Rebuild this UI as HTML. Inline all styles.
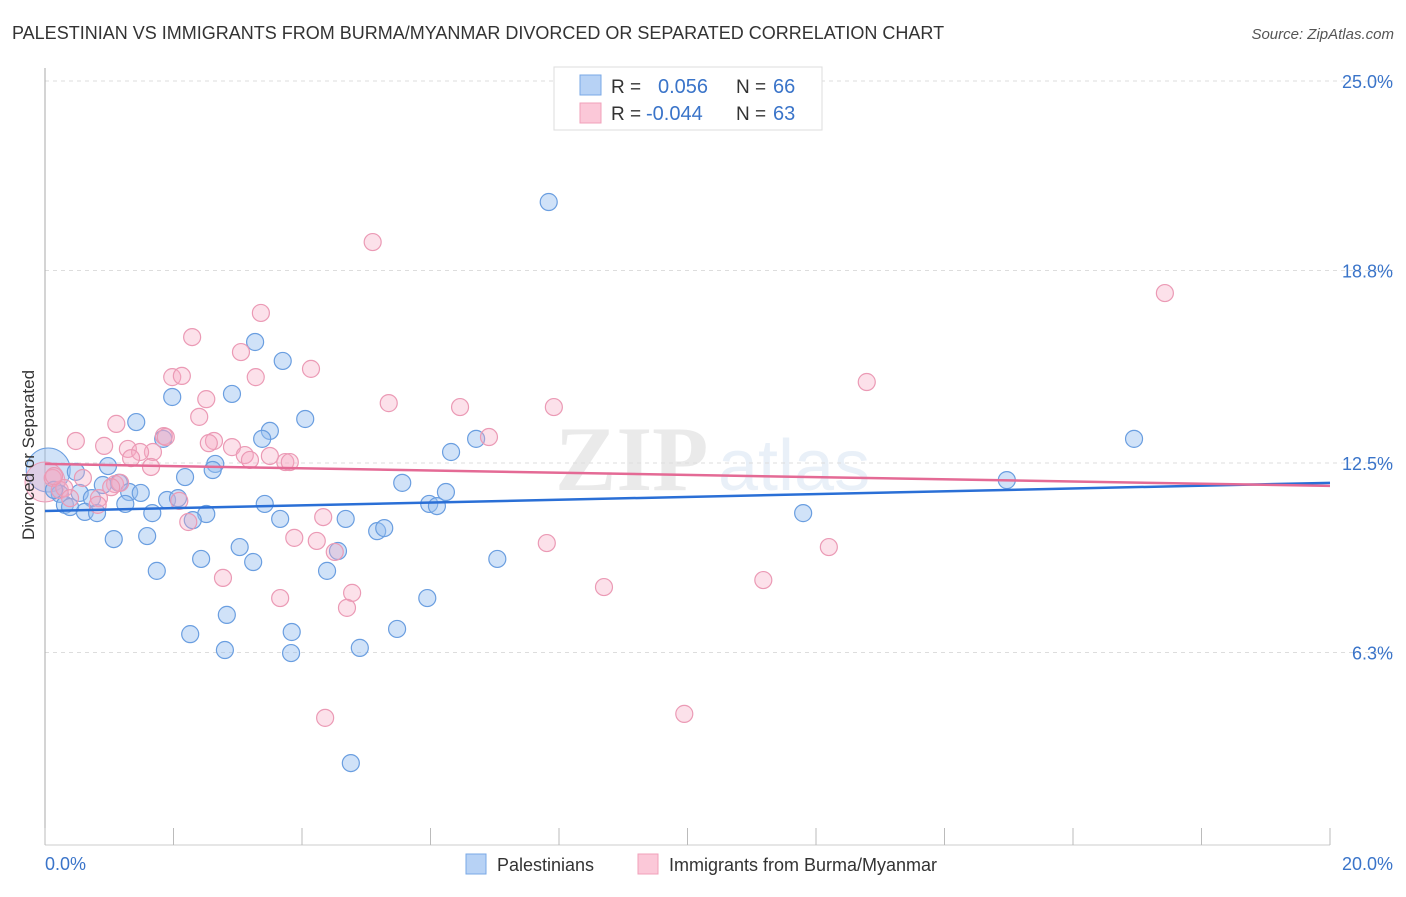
<!DOCTYPE html>
<html><head><meta charset="utf-8"><style>
body{margin:0;background:#fff;font-family:"Liberation Sans",sans-serif;}
</style></head><body>
<svg width="1406" height="892" xmlns="http://www.w3.org/2000/svg" font-family="Liberation Sans, sans-serif">
<text x="12" y="39" font-size="18" fill="#333">PALESTINIAN VS IMMIGRANTS FROM BURMA/MYANMAR DIVORCED OR SEPARATED CORRELATION CHART</text>
<text x="1394" y="39" font-size="15" fill="#555" font-style="italic" text-anchor="end">Source: ZipAtlas.com</text>
<g opacity="0.13">
<text x="555" y="490" font-size="92" fill="#666" font-family="Liberation Serif, serif" font-weight="bold">ZIP</text>
<text x="718" y="490" font-size="72" fill="#5b8fd0">atlas</text>
</g>
<g id="grid"></g>
<g id="axes"></g>
<g id="marks"></g>
<text transform="translate(34,455) rotate(-90)" font-size="17" fill="#333" text-anchor="middle">Divorced or Separated</text>
<g>
<rect x="554" y="67" width="268" height="63" fill="#fff" stroke="#ddd"/>
<rect x="580" y="75" width="21" height="20" fill="#b7d2f5" stroke="#7aa8e6"/>
<rect x="580" y="103" width="21" height="20" fill="#fbc8d8" stroke="#f0a0ba"/>
<text x="611" y="93" font-size="19" fill="#333">R =</text>
<text x="658" y="93" font-size="20" fill="#3a74c9">0.056</text>
<text x="736" y="93" font-size="19" fill="#333">N =</text>
<text x="773" y="93" font-size="20" fill="#3a74c9">66</text>
<text x="611" y="120" font-size="19" fill="#333">R =</text>
<text x="646" y="120" font-size="20" fill="#3a74c9">-0.044</text>
<text x="736" y="120" font-size="19" fill="#333">N =</text>
<text x="773" y="120" font-size="20" fill="#3a74c9">63</text>
</g>
<g>
<rect x="466" y="854" width="20" height="20" fill="#b7d2f5" stroke="#7aa8e6"/>
<text x="497" y="871" font-size="18" fill="#333">Palestinians</text>
<rect x="638" y="854" width="20" height="20" fill="#fbc8d8" stroke="#f0a0ba"/>
<text x="669" y="871" font-size="18" fill="#333">Immigrants from Burma/Myanmar</text>
</g>
</svg>
<script>
const yTicks=[25,18.8,12.5,6.3];
const yTickLabels=["25.0%","18.8%","12.5%","6.3%"];
const xTicks=[0,2,4,6,8,10,12,14,16,18,20];
const xEndLabels=["0.0%","20.0%"];
const blueX=[7.84,3.27,3.70,1.98,2.91,1.42,4.05,3.50,3.38,1.84,6.71,6.32,0.98,2.65,2.61,0.48,2.18,1.15,0.90,5.56,1.31,1.49,0.54,6.24,0.23,0.14,0.73,1.90,2.07,0.31,1.25,3.42,5.98,6.10,0.39,0.62,0.81,1.67,2.51,2.30,3.66,4.68,5.17,5.28,11.80,14.97,16.95,1.07,1.59,3.03,4.56,3.24,2.43,7.04,1.74,4.39,5.95,2.83,5.48,2.26,3.84,4.90,2.80,3.83,4.76];
const blueY=[21.04,16.46,15.84,14.66,14.76,13.84,13.94,13.55,13.29,13.29,13.29,12.86,12.40,12.47,12.27,12.21,12.04,11.85,11.78,11.85,11.55,11.52,11.52,11.55,11.49,11.62,11.35,11.29,11.35,11.13,11.16,11.16,11.16,11.09,11.06,10.90,10.86,10.86,10.83,10.63,10.67,10.67,10.27,10.37,10.86,11.94,13.29,10.01,10.11,9.75,9.62,9.26,9.36,9.36,8.97,8.97,8.08,7.53,7.07,6.90,6.97,6.45,6.38,6.28,2.68];
const pinkX=[5.10,17.43,3.36,2.29,3.05,4.14,1.98,2.13,3.28,12.79,2.51,5.35,6.46,7.92,2.40,1.11,1.85,0.48,0.92,1.29,2.63,2.55,2.91,1.88,6.91,1.68,1.48,3.11,3.50,3.19,3.74,3.81,1.65,1.34,0.59,0.12,0.23,1.09,1.17,0.84,0.30,0.39,1.03,2.09,0.82,0.14,2.23,4.33,4.51,3.88,4.23,7.81,12.20,2.77,8.70,11.18,4.78,3.66,4.70,4.36,9.95];
const pinkY=[19.73,18.06,17.41,16.62,16.13,15.58,15.31,15.35,15.31,15.15,14.59,14.46,14.33,14.33,14.01,13.78,13.38,13.22,13.06,12.96,13.22,13.15,13.02,13.35,13.35,12.86,12.86,12.76,12.73,12.60,12.53,12.53,12.37,12.66,12.01,12.01,11.62,11.81,11.85,11.35,11.68,11.35,11.71,11.26,11.13,12.07,10.57,10.73,9.59,10.05,9.95,9.88,9.75,8.74,8.44,8.67,8.25,8.08,7.76,4.16,4.29];
const bigPoints=[{s:"blue",x:0.05,y:12.27},{s:"pink",x:0.0,y:11.88}];
const blueTrend=[10.93,11.85];
const pinkTrend=[12.47,11.75];
const NS="http://www.w3.org/2000/svg";
const X=v=>45+v*64.25, Y=v=>845-v*30.56;
function mk(p,tag,a){const e=document.createElementNS(NS,tag);for(const k in a)e.setAttribute(k,a[k]);p.appendChild(e);return e;}
const grid=document.getElementById('grid'),axes=document.getElementById('axes'),marks=document.getElementById('marks');
yTicks.forEach((t,i)=>{
 const l=mk(grid,'line',{x1:45,x2:1394,y1:Y(t),y2:Y(t),stroke:'#ddd','stroke-dasharray':'4,4'});
 
 
 const tx=mk(axes,'text',{x:1393,y:Y(t)+7,'font-size':18,fill:'#3a74c9','text-anchor':'end'});tx.textContent=yTickLabels[i];
 
 
});
const ax=mk(axes,'line',{x1:45,x2:45,y1:68,y2:845,stroke:'#aaa'});


const bx=mk(axes,'line',{x1:45,x2:1330,y1:845,y2:845,stroke:'#ccc'});


xTicks.forEach(t=>{const l=mk(axes,'line',{x1:X(t),x2:X(t),y1:828,y2:845,stroke:'#bbb'});
 
 });
const t0=mk(axes,'text',{x:45,y:870,'font-size':18,fill:'#3a74c9'});t0.textContent=xEndLabels[0];


const t1=mk(axes,'text',{x:1393,y:870,'font-size':18,fill:'#3a74c9','text-anchor':'end'});t1.textContent=xEndLabels[1];


const sty={blue:{fill:'rgba(150,190,240,0.45)',stroke:'#6a9ee0'},pink:{fill:'rgba(246,170,196,0.35)',stroke:'#eb9ab5'}};
bigPoints.forEach(p=>{const c=mk(marks,'circle',{cx:X(p.x),cy:Y(p.y),r:p.s=='blue'?22:20,fill:sty[p.s].fill,stroke:sty[p.s].stroke,'stroke-width':1});
 
 });
blueX.forEach((v,i)=>{const c=mk(marks,'circle',{cx:X(v),cy:Y(blueY[i]),r:8.5,fill:sty.blue.fill,stroke:sty.blue.stroke,'stroke-width':1.2});
 
 });
pinkX.forEach((v,i)=>{const c=mk(marks,'circle',{cx:X(v),cy:Y(pinkY[i]),r:8.5,fill:sty.pink.fill,stroke:sty.pink.stroke,'stroke-width':1.2});
 
 });
const bl=mk(marks,'line',{x1:X(0),x2:X(20),y1:Y(blueTrend[0]),y2:Y(blueTrend[1]),stroke:'#2a6fd6','stroke-width':2.5});


const pl=mk(marks,'line',{x1:X(0),x2:X(20),y1:Y(pinkTrend[0]),y2:Y(pinkTrend[1]),stroke:'#e46a95','stroke-width':2.5});


</script>
</body></html>
